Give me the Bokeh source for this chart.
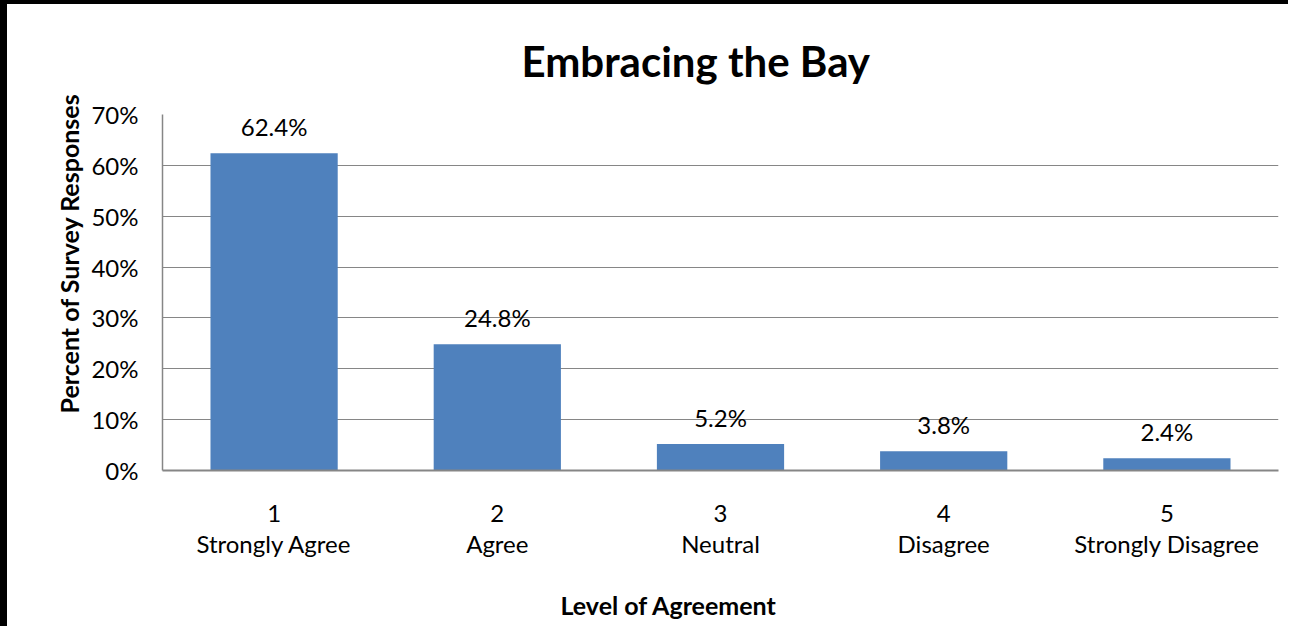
from bokeh.plotting import figure
from bokeh.models import Range1d, Title, NumeralTickFormatter, FixedTicker, ColumnDataSource
from bokeh.core.properties import value
from bokeh.embed import file_html
from bokeh.resources import INLINE

# ---- data ----
levels = [1, 2, 3, 4, 5]
categories = ["Strongly Agree", "Agree", "Neutral", "Disagree", "Strongly Disagree"]
percents = [0.624, 0.248, 0.052, 0.038, 0.024]
y_ticks = [0.0, 0.1, 0.2, 0.3, 0.4, 0.5, 0.6, 0.7]

title_text = "Embracing the Bay"
x_title = "Level of Agreement"
y_title = "Percent of Survey Responses"

FONT = "Lato"
W, H = 1288, 626

src = ColumnDataSource(dict(
    x=levels,
    val=percents,
    lab=[f"{v*100:.1f}%" for v in percents],
))

p = figure(
    width=W, height=H,
    x_range=Range1d(0.5, 5.5),
    y_range=Range1d(0, 0.7),
    output_backend="svg", toolbar_location=None,
    min_border_left=155, min_border_right=17,
    min_border_top=110, min_border_bottom=160,
)
p.styles = {"border-top": "4px solid black", "border-left": "7px solid black"}
p.outline_line_color = None
p.background_fill_color = "white"
p.border_fill_color = "white"

p.vbar(x="x", top="val", width=0.57, source=src,
       fill_color="#4F81BD", line_color=None)

p.text(x="x", y="val", text="lab", source=src,
       text_font=value(FONT), text_font_size="24px", text_color="black",
       text_align="center", text_baseline="middle", y_offset=-27)

# axes
p.yaxis.ticker = FixedTicker(ticks=y_ticks)
p.yaxis.formatter = NumeralTickFormatter(format="0%")
p.yaxis.major_tick_line_color = None
p.yaxis.minor_tick_line_color = None
p.yaxis.axis_line_color = "#868686"
p.yaxis.axis_line_width = 1.5
p.yaxis.major_label_text_font = FONT
p.yaxis.major_label_text_font_size = "24px"
p.yaxis.major_label_text_color = "black"
p.yaxis.major_label_standoff = 18

p.xaxis.ticker = FixedTicker(ticks=levels)
p.xaxis.major_label_overrides = {n: f"{n}\n{c}" for n, c in zip(levels, categories)}
p.xaxis.major_tick_line_color = None
p.xaxis.minor_tick_line_color = None
p.xaxis.axis_line_color = "#868686"
p.xaxis.axis_line_width = 2
p.xaxis.major_label_text_font = FONT
p.xaxis.major_label_text_font_size = "24px"
p.xaxis.major_label_text_color = "black"
p.xaxis.major_label_standoff = 21
p.xaxis.major_label_text_line_height = 1.1

p.xgrid.grid_line_color = None
p.ygrid.grid_line_color = "#868686"
p.ygrid.grid_line_width = 1

# titles
p.title = Title(text=title_text, text_font=FONT, text_font_size="42px",
                text_font_style="bold", text_color="black",
                align="left", offset=359, standoff=57)
# spacer between the category labels and the x-axis title
p.add_layout(Title(text=" ", text_font=FONT, text_font_size="1px", standoff=18), "below")
p.add_layout(Title(text=x_title, text_font=FONT, text_font_size="25px",
                   text_font_style="bold", text_color="black",
                   align="left", offset=398, standoff=10), "below")
p.add_layout(Title(text=y_title, text_font=FONT, text_font_size="25px",
                   text_font_style="bold", text_color="black",
                   align="left", offset=57, standoff=10), "left")

open("out.html", "w").write(file_html(p, INLINE))
